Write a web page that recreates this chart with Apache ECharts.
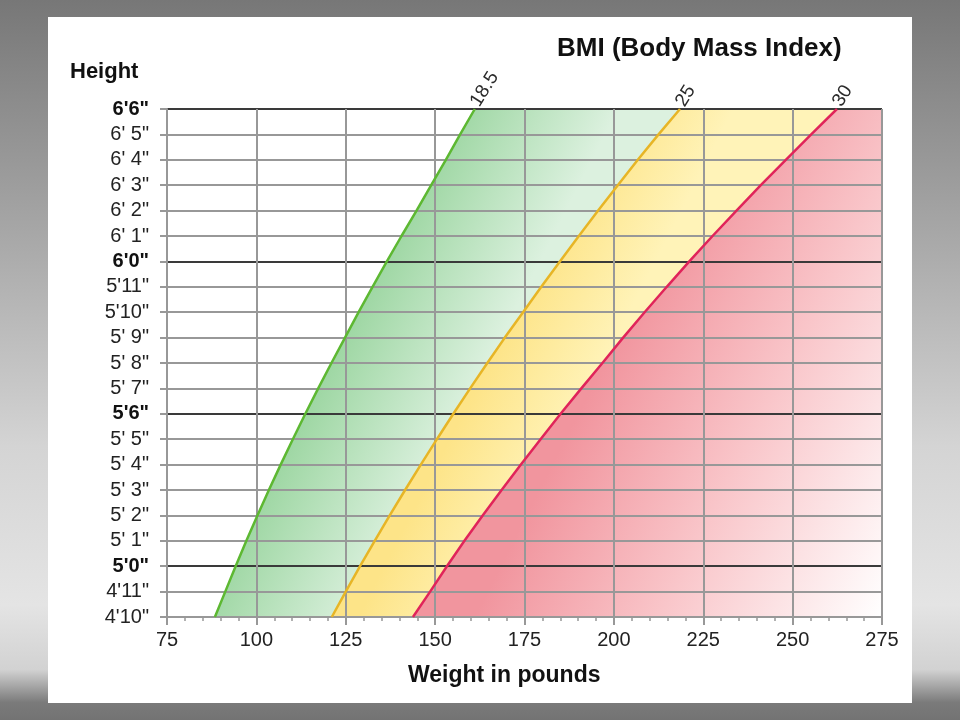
<!DOCTYPE html>
<html><head><meta charset="utf-8">
<script src="https://cdn.jsdelivr.net/npm/echarts@6/dist/echarts.min.js"></script>
<style>
html,body{margin:0;padding:0;width:960px;height:720px;overflow:hidden;}
body{background:linear-gradient(to bottom,#777777 0%,#868686 10%,#ababab 35%,#d4d4d4 62%,#e4e4e4 84%,#d2d2d2 93%,#7a7a7a 97.6%,#737373 100%);}
#panel{position:absolute;left:48px;top:17px;width:864px;height:686px;background:#ffffff;}
#chart{position:absolute;left:0;top:0;width:960px;height:720px;}
</style></head><body>
<div id="panel"></div><div id="chart"></div>
<script>
// Heights (bottom to top), 4'10" .. 6'6"
const heightLabels = ["4'10\"","4'11\"","5'0\"","5' 1\"","5' 2\"","5' 3\"","5' 4\"","5' 5\"","5'6\"","5' 7\"","5' 8\"","5' 9\"","5'10\"","5'11\"","6'0\"","6' 1\"","6' 2\"","6' 3\"","6' 4\"","6' 5\"","6'6\""];
const boldLabels = ["5'0\"","5'6\"","6'0\"","6'6\""];
// Weight (lb) at each height for each BMI boundary
const bmi185 = [88.4,91.3,94.2,97.2,100.3,103.5,106.8,110.2,113.7,117.3,121.0,124.8,128.6,132.5,136.5,140.6,144.8,148.9,153.0,157.0,161.1];
const bmi25  = [121.1,125.0,129.0,133.1,137.3,141.6,146.0,150.5,155.1,159.8,164.6,169.5,174.6,179.7,184.9,190.2,195.6,201.1,206.7,212.5,218.5];
const bmi30  = [143.8,148.6,153.3,158.2,163.3,168.6,174.0,179.5,185.1,190.9,196.8,202.6,208.6,214.8,221.1,227.6,234.3,241.1,248.1,255.2,262.4];
const bmiNames = ["18.5","25","30"];
const weightMin = 75, weightMax = 275, weightStep = 25;

const FONT = 'Liberation Sans, Arial, sans-serif';
const lineColors = ['#5db832','#e7b526','#e0245a'];
const fills = [
  {type:'linear',global:true,x:333,y:363,x2:456,y2:426,colorStops:[{offset:0,color:'#9fd7a4'},{offset:1,color:'#dcf1df'}]},
  {type:'linear',global:true,x:488,y:363,x2:580,y2:410,colorStops:[{offset:0,color:'#fde488'},{offset:1,color:'#fff3b8'}]},
  {type:'linear',global:true,x:604,y:363,x2:927,y2:528,colorStops:[{offset:0,color:'#f1959e'},{offset:0.45,color:'#f9c5c9'},{offset:1,color:'#ffffff'}]}
];
const allSeries = [bmi185, bmi25, bmi30];

const splitColors = heightLabels.map(l => boldLabels.includes(l) ? '#3a3a3a' : '#989898');

const series = [];
allSeries.forEach((vals, k) => {
  series.push({
    type:'line', data: vals, symbol:'none', smooth:false, z:1,
    lineStyle:{width:0}, areaStyle:{origin:'end', color: fills[k], opacity:1},
    silent:true
  });
});
allSeries.forEach((vals, k) => {
  series.push({
    type:'line', z:6, smooth:false, symbol:'circle', symbolSize:0, showSymbol:true,
    lineStyle:{width:2.5, color: lineColors[k]}, itemStyle:{color: lineColors[k]},
    data: vals.map((v,i) => i === vals.length-1 ? {value:v, label:{show:true, formatter: bmiNames[k], position:'top', distance:4, rotate:58, align:'left', verticalAlign:'middle', fontSize:19, color:'#2a2a2a', fontFamily:FONT}} : v),
    silent:true
  });
});

const chart = echarts.init(document.getElementById('chart'), null, {renderer:'canvas'});
chart.setOption({
  animation:false,
  textStyle:{fontFamily:FONT},
  title:[
    {text:'BMI (Body Mass Index)', left:557, top:36, padding:0, textStyle:{fontSize:26, fontWeight:'bold', color:'#111', fontFamily:FONT}},
    {text:'Height', left:70, top:61, padding:0, textStyle:{fontSize:22, fontWeight:'bold', color:'#111', fontFamily:FONT}},
    {text:'Weight in pounds', left:408, top:664, padding:0, textStyle:{fontSize:23, fontWeight:'bold', color:'#111', fontFamily:FONT}}
  ],
  grid:{left:167, right:78, top:109, bottom:103, containLabel:false},
  xAxis:{
    type:'value', min:weightMin, max:weightMax, interval:weightStep, z:4,
    axisLine:{show:true, lineStyle:{color:'#989898', width:2}},
    axisTick:{show:true, length:8, lineStyle:{color:'#989898', width:2}},
    minorTick:{show:true, splitNumber:5, length:4, lineStyle:{color:'#989898', width:1.5}},
    axisLabel:{fontSize:20, color:'#222', margin:13},
    splitLine:{show:true, lineStyle:{color:'#989898', width:2}}
  },
  yAxis:{
    type:'category', data:heightLabels, boundaryGap:false, z:4,
    axisLine:{show:true, lineStyle:{color:'#989898', width:2}},
    axisTick:{show:true, length:7, interval:0, lineStyle:{color:'#989898', width:2}},
    axisLabel:{interval:0, fontSize:20, color:'#222', margin:18,
      formatter:(v)=> boldLabels.includes(v) ? '{b|'+v+'}' : v,
      rich:{b:{fontSize:20, fontWeight:'bold', color:'#111'}}},
    splitLine:{show:true, interval:0, lineStyle:{color:splitColors, width:2}}
  },
  series: series
});
</script>
</body></html>
